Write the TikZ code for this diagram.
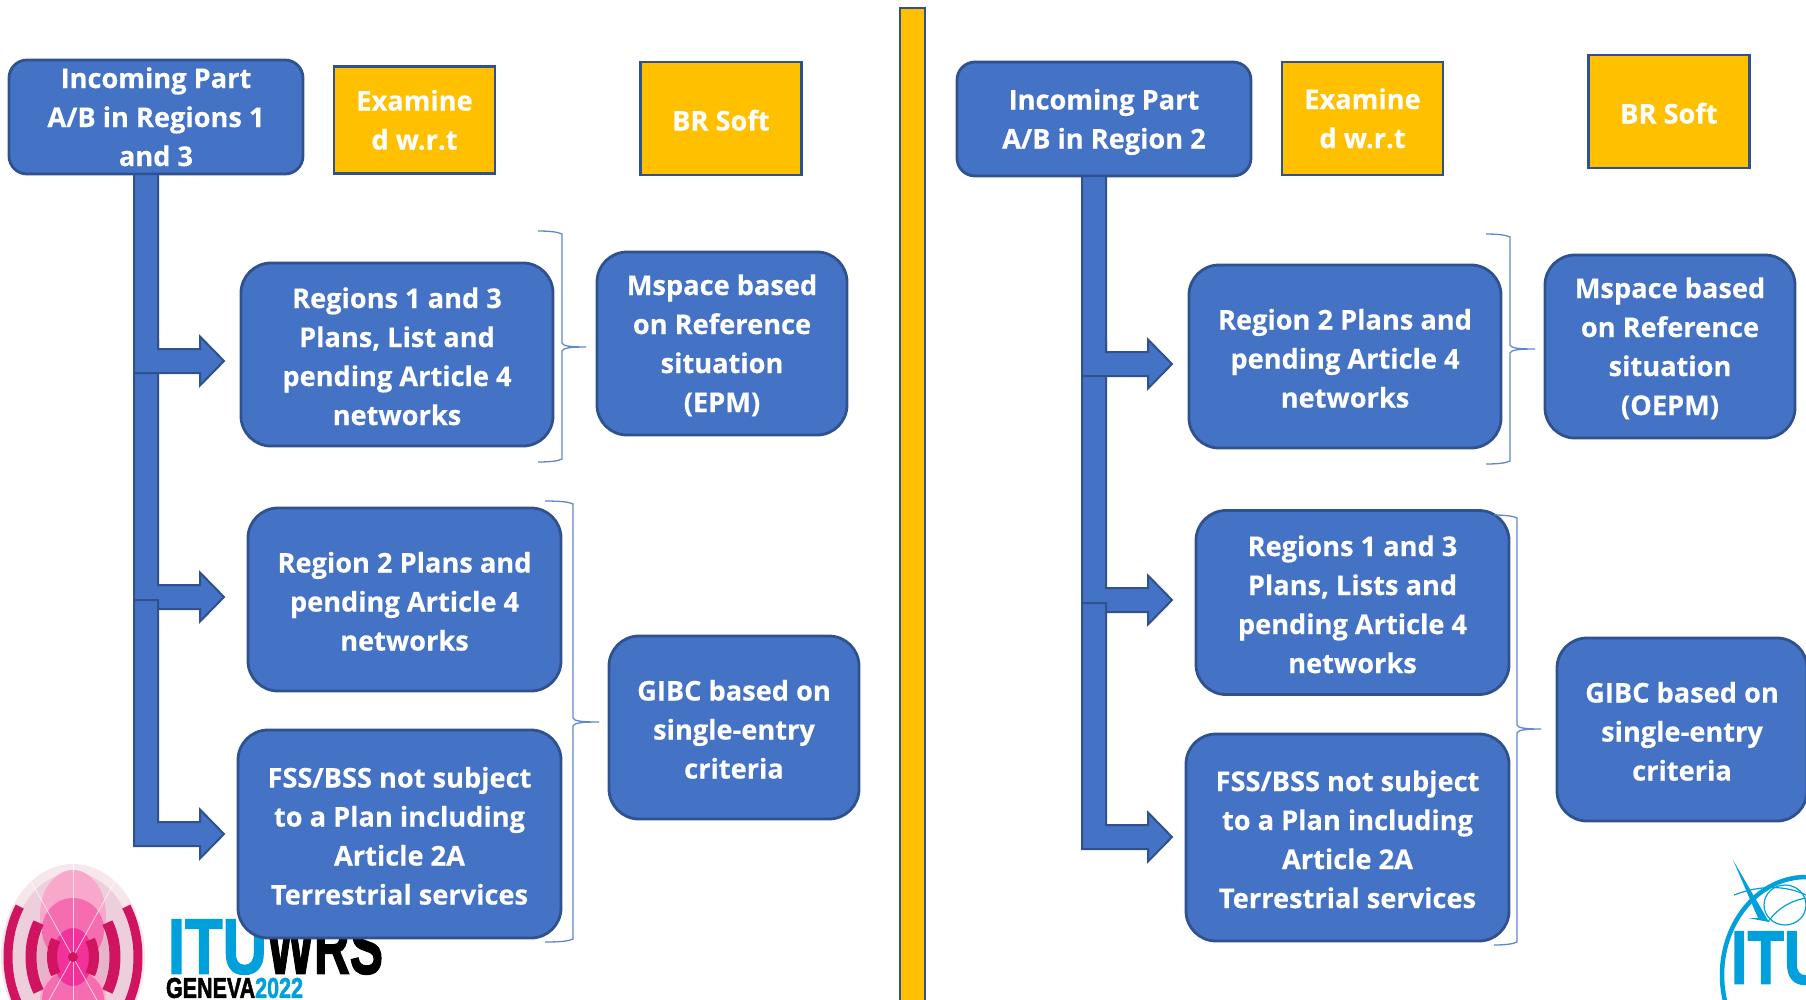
\documentclass[tikz,border=0pt]{standalone}
\usepackage{fontspec}
\usepackage{graphicx}
\setmainfont{Open Sans}[BoldFeatures={FakeBold=0.35}]
\newfontfamily\heavyfont{Liberation Sans}[BoldFeatures={FakeBold=2}]
\usetikzlibrary{calc}
\definecolor{boxblue}{HTML}{4472C4}
\definecolor{boxline}{HTML}{2F528F}
\definecolor{gold}{HTML}{FFC000}
\definecolor{itucyan}{HTML}{00A0DC}
\definecolor{crim}{HTML}{D0145F}
\definecolor{wrsa}{HTML}{F8E6ED}
\definecolor{wrsb}{HTML}{EDCFDB}
\definecolor{wrsc}{HTML}{E5B4C8}
\definecolor{wrsd}{HTML}{F7A8CB}
\definecolor{wrse}{HTML}{F56DB0}
\definecolor{wrsf}{HTML}{F0329A}
\newcommand{\tsa}{\rule{0pt}{32pt}}
\newcommand{\tsb}{\rule{0pt}{28pt}}
\tikzset{
  x=1pt,y=-1pt,
  basebox/.style={draw=boxline,line width=2.8pt,outer sep=0pt,inner sep=0pt,align=center,text=white,
     font=\fontsize{27.2}{39}\selectfont\bfseries,
     execute at end node={\rule[-8pt]{0pt}{8pt}}},
  bluebox/.style={basebox,fill=boxblue,rounded corners=30pt},
  headbox/.style={basebox,fill=boxblue,rounded corners=18pt},
  goldbox/.style={basebox,fill=gold,text=white,minimum width=161pt,minimum height=107pt},
  tallgold/.style={goldbox,minimum height=113pt},
  blockarrow/.style={draw=boxline,line width=2pt,fill=boxblue,line join=miter},
  bracket/.style={draw=boxblue!85!white,line width=1.3pt},
  ring/.style={draw=crim,line width=#1},
  logotext/.style={anchor=west,inner sep=0pt,outer sep=0pt},
}
\newcommand{\bentarrow}[2]{%
  \draw[blockarrow] (#1) -- ++(24,0) |- ($(#2)+(-24,-12)$) -- ++(0,-12.5) -- (#2)
     -- ++(-24,24.5) -- ++(0,-12.5) -| (#1) -- cycle;}
\newcommand{\sidebrace}[6]{% x0, xv, xt, ytop, ymid, ybot
  \draw[bracket] (#1,#4) .. controls (#2-12,#4) and (#2-4,#4+1) .. (#2,#4+3)
    -- (#2,#5-4) .. controls (#2+1,#5-1) and (#2+8,#5) .. (#3,#5)
    .. controls (#2+8,#5) and (#2+1,#5+1) .. (#2,#5+4)
    -- (#2,#6-3) .. controls (#2-4,#6-1) and (#2-12,#6) .. (#1,#6);}
\begin{document}
\begin{tikzpicture}
\useasboundingbox (0,0) rectangle (1806,999);
% --- WRS logo
\begin{scope}
  \clip (0,840) rectangle (160,999);
  \fill[wrsa] (73,957) ellipse [x radius=72,y radius=93];
  \fill[wrsb] (73,957) ellipse [x radius=62,y radius=84];
  \fill[wrsc] (73,957) ellipse [x radius=36,y radius=50];
  \fill[wrsd] (73,915) ellipse [x radius=33,y radius=45];
  \fill[wrsd] (73,1002) ellipse [x radius=33,y radius=45];
  \fill[wrse] (73,930) ellipse [x radius=31,y radius=32];
  \fill[wrse] (73,1000) ellipse [x radius=31,y radius=30];
  \fill[wrsf] (73,957) ellipse [x radius=20,y radius=29];
  \foreach \a in {60,90,120,240,270,300}
    \draw[white,line width=.8pt,opacity=.7] (73,957) -- ++({96*cos(\a)},{-100*sin(\a)});
  \foreach \rx/\ry/\w in {65/88/9,42/60/11,21/30/10}{
    \draw[ring=\w pt] ({73+\rx*cos(145)},{957-\ry*sin(145)}) arc [start angle=-145,end angle=-215,x radius=\rx,y radius=\ry];
    \draw[ring=\w pt] ({73+\rx*cos(35)},{957-\ry*sin(35)}) arc [start angle=-35,end angle=35,x radius=\rx,y radius=\ry];
  }
  \fill[crim] (73,957) circle (5);
\end{scope}
\node[logotext,text=itucyan] (ituL) at (168,947)
  {\resizebox{99pt}{54pt}{\fontsize{30}{30}\selectfont\heavyfont\bfseries ITU}};
\node[logotext,text=black] (wrs) at (267,947)
  {\resizebox{116pt}{54pt}{\fontsize{30}{30}\selectfont\heavyfont\bfseries WRS}};
\node[logotext] (gen) at (166,988)
  {\resizebox{137pt}{20pt}{\fontsize{20}{20}\selectfont\heavyfont\bfseries GENEVA\textcolor{itucyan}{2022}}};
% --- ITU logo
\begin{scope}
  \clip (1700,850) rectangle (1806,999);
  \draw[itucyan,line width=4.5pt] (1806,975) ellipse [x radius=84,y radius=98];
  \draw[itucyan,line width=1.2pt] (1734,895) .. controls (1760,885) and (1785,885) .. (1806,895);
  \draw[itucyan,line width=1.2pt] (1768,922) .. controls (1780,905) and (1795,900) .. (1806,898);
  \draw[itucyan,line width=1.2pt] (1785,905) ellipse [x radius=21,y radius=20];
  \fill[itucyan] (1733,860) -- (1769,922) -- (1748,918) -- (1758,918) -- cycle;
  \node[logotext,text=itucyan] (ituR) at (1731,958)
    {\resizebox{96pt}{52pt}{\fontsize{30}{30}\selectfont\heavyfont\bfseries ITU}};
\end{scope}
% --- divider
\path[fill=gold,draw=boxline,line width=2pt] (900,8) rectangle (925,1005);
% --- left column
\node[headbox,minimum width=294pt,minimum height=114pt] (inL) at (156,117) {\tsb Incoming Part\\A/B in Regions 1\\and 3};
\node[goldbox] (exL) at (414.5,120) {\tsb Examine\\d w.r.t};
\node[tallgold] (brL) at (721,118.5) {\tsa BR Soft};
\node[bluebox,minimum width=312pt,minimum height=183pt] (p1L) at (397,354.5) {\tsa Regions 1 and 3\\Plans, List and\\pending Article 4\\networks};
\node[bluebox,minimum width=250pt,minimum height=183pt] (msL) at (722,343.5) {\tsb Mspace based\\on Reference\\situation\\(EPM)};
\node[bluebox,minimum width=313pt,minimum height=183pt] (p2L) at (404.5,599.5) {\tsa Region 2 Plans and\\pending Article 4\\networks};
\node[bluebox,minimum width=323pt,minimum height=208pt] (fsL) at (399.5,834) {\tsa FSS/BSS not subject\\to a Plan including\\Article 2A\\Terrestrial services};
\node[bluebox,minimum width=250pt,minimum height=183pt] (giL) at (734,727.5) {\tsa GIBC based on\\single-entry\\criteria};
% --- right column
\node[headbox,minimum width=294pt,minimum height=114pt] (inR) at (1104,119) {\tsb Incoming Part\\A/B in Region 2};
\node[tallgold] (exR) at (1362.5,118.5) {\tsb Examine\\d w.r.t};
\node[tallgold] (brR) at (1669,111.5) {\tsa BR Soft};
\node[bluebox,minimum width=312pt,minimum height=183pt] (p1R) at (1345,356.5) {\tsa Region 2 Plans and\\pending Article 4\\networks};
\node[bluebox,minimum width=250pt,minimum height=183pt] (msR) at (1670,346.5) {\tsb Mspace based\\on Reference\\situation\\(OEPM)};
\node[bluebox,minimum width=313pt,minimum height=184pt] (p2R) at (1352.5,602.5) {\tsa Regions 1 and 3\\Plans, Lists and\\pending Article 4\\networks};
\node[bluebox,minimum width=323pt,minimum height=207pt] (fsR) at (1347.5,837.5) {\tsa FSS/BSS not subject\\to a Plan including\\Article 2A\\Terrestrial services};
\node[bluebox,minimum width=250pt,minimum height=183pt] (giR) at (1682,729.5) {\tsa GIBC based on\\single-entry\\criteria};
% --- block arrows, left
\coordinate (sL1) at ($(inL.south)+(-22,0)$);
\coordinate (sL2) at ($(inL.south)+(-22,166)$);
\coordinate (sL3) at ($(p2L.south)+(-270.5,-91)$);
\coordinate (tL1) at ($(p1L.west)+(-17,6.5)$);
\coordinate (tL2) at ($(p2L.west)+(-24,-2.5)$);
\coordinate (tL3) at ($(fsL.west)+(-14,0)$);
\bentarrow{sL2}{tL2}
\bentarrow{sL1}{tL1}
\bentarrow{sL3}{tL3}
% --- block arrows, right
\coordinate (sR1) at ($(inR.south)+(-22,0)$);
\coordinate (sR2) at ($(inR.south)+(-22,166)$);
\coordinate (sR3) at ($(p2R.south)+(-270.5,-91.5)$);
\coordinate (tR1) at ($(p1R.west)+(-17,7.5)$);
\coordinate (tR2) at ($(p2R.west)+(-24,-2.5)$);
\coordinate (tR3) at ($(fsR.west)+(-14,-0.5)$);
\bentarrow{sR2}{tR2}
\bentarrow{sR1}{tR1}
\bentarrow{sR3}{tR3}
% --- braces
\sidebrace{538}{562}{586}{231}{347}{462}
\sidebrace{545}{573}{599}{501}{722}{942}
\sidebrace{1486}{1510}{1535}{234}{349}{464}
\sidebrace{1494}{1517}{1541}{515}{729}{945}
\end{tikzpicture}
\end{document}
